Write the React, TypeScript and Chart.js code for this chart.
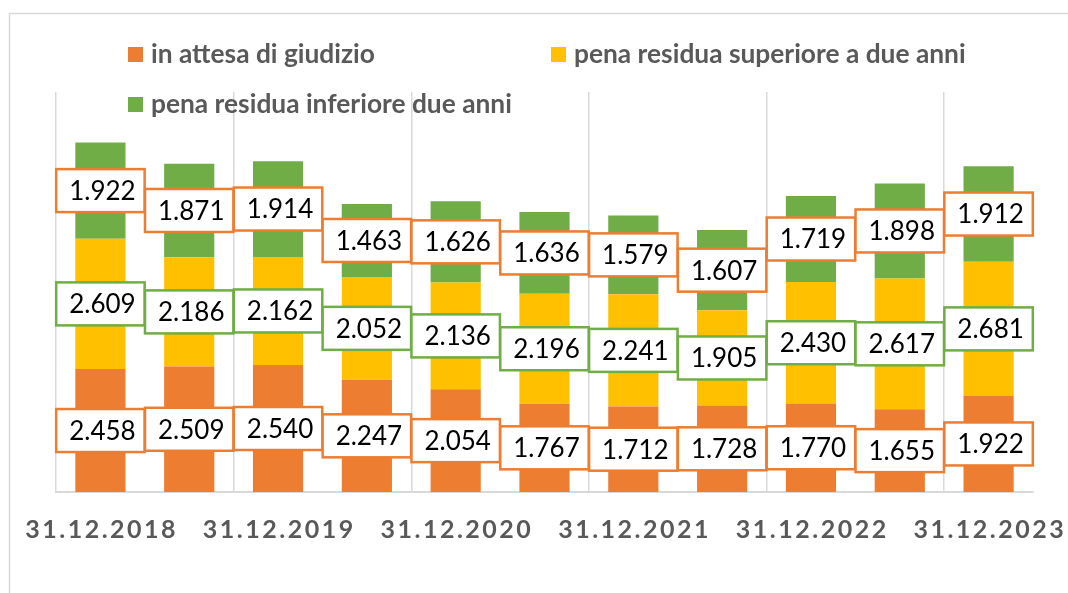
import React, { useEffect, useRef } from 'react';
import { Chart, registerables } from 'chart.js';

Chart.register(...registerables);

const categories = [
  '31.12.2018', '30.06.2019', '31.12.2019', '30.06.2020', '31.12.2020', '30.06.2021',
  '31.12.2021', '30.06.2022', '31.12.2022', '30.06.2023', '31.12.2023',
];
const attesaGiudizio = [2458, 2509, 2540, 2247, 2054, 1767, 1712, 1728, 1770, 1655, 1922];
const penaSuperiore = [2609, 2186, 2162, 2052, 2136, 2196, 2241, 1905, 2430, 2617, 2681];
const penaInferiore = [1922, 1871, 1914, 1463, 1626, 1636, 1579, 1607, 1719, 1898, 1912];
const seriesNames = [
  'in attesa di giudizio',
  'pena residua superiore a due anni',
  'pena residua inferiore due anni',
];

const ORANGE = '#ED7D31';
const YELLOW = '#FFC000';
const GREEN = '#70AD47';
const GRID = '#D9D9D9';
const TEXT_GRAY = '#595959';
const FONT = 'Lato, "Open Sans", sans-serif';

function fmt(v: number): string {
  return String(Math.round(v)).replace(/\B(?=(\d{3})+(?!\d))/g, '.');
}

function fitSize(ctx: CanvasRenderingContext2D, text: string, weight: string, target: number): number {
  ctx.font = `${weight} 100px ${FONT}`;
  const w = ctx.measureText(text).width;
  return (100 * target) / w;
}

const overlayPlugin = {
  id: 'overlay',
  beforeDraw(chart: any) {
    const ctx = chart.ctx as CanvasRenderingContext2D;
    ctx.save();
    ctx.fillStyle = '#ffffff';
    ctx.fillRect(0, 0, chart.width, chart.height);
    ctx.strokeStyle = GRID;
    ctx.lineWidth = 1.5;
    ctx.strokeRect(9.5, 13.5, chart.width + 50, chart.height + 50);
    ctx.restore();
  },
  afterDatasetsDraw(chart: any) {
    const ctx = chart.ctx as CanvasRenderingContext2D;
    const size = 26;
    ctx.save();
    chart.data.datasets.forEach((ds: any, di: number) => {
      const meta = chart.getDatasetMeta(di);
      meta.data.forEach((el: any, i: number) => {
        const v = ds.data[i];
        const text = fmt(v);
        const cx = el.x;
        const cy = (el.y + el.base) / 2;
        ctx.font = `400 ${size}px ${FONT}`;
        const tw = ctx.measureText(text).width;
        const w = tw + 22;
        const h = 43;
        ctx.fillStyle = '#ffffff';
        ctx.fillRect(cx - w / 2, cy - h / 2, w, h);
        ctx.strokeStyle = ds.labelBorder;
        ctx.lineWidth = 2.5;
        ctx.strokeRect(cx - w / 2, cy - h / 2, w, h);
        ctx.fillStyle = '#000000';
        ctx.textAlign = 'center';
        ctx.textBaseline = 'alphabetic';
        ctx.fillText(text, cx + 2, cy + size * 0.36);
      });
    });
    ctx.restore();
  },
  afterDraw(chart: any) {
    const ctx = chart.ctx as CanvasRenderingContext2D;
    ctx.save();
    // legend
    const legendPos = [
      { x: 128, y: 47 },
      { x: 551, y: 47 },
      { x: 128, y: 97 },
    ];
    const legSize = fitSize(ctx, seriesNames[0], '700', 224);
    chart.data.datasets.forEach((ds: any, di: number) => {
      const p = legendPos[di];
      ctx.fillStyle = ds.backgroundColor;
      ctx.fillRect(p.x, p.y, 15, 15);
      ctx.fillStyle = TEXT_GRAY;
      ctx.font = `700 ${legSize}px ${FONT}`;
      ctx.textAlign = 'left';
      ctx.textBaseline = 'alphabetic';
      ctx.fillText(ds.label, p.x + 23, p.y + 16);
    });
    // x labels
    const xs = chart.scales.x;
    const spacing = 2.5;
    ctx.font = `700 25px ${FONT}`;
    (ctx as any).letterSpacing = `${spacing}px`;
    ctx.fillStyle = TEXT_GRAY;
    ctx.textAlign = 'center';
    ctx.textBaseline = 'alphabetic';
    categories.forEach((c, i) => {
      if (i % 2 !== 0) return;
      const x = xs.getPixelForValue(i);
      ctx.fillText(c, x + spacing / 2, 538);
    });
    (ctx as any).letterSpacing = '0px';
    ctx.restore();
  },
};

export default function App() {
  const ref = useRef<HTMLCanvasElement>(null);
  useEffect(() => {
    if (!ref.current) return;
    const chart = new Chart(ref.current, {
      type: 'bar',
      data: {
        labels: categories,
        datasets: [
          { label: seriesNames[0], data: attesaGiudizio, backgroundColor: ORANGE, labelBorder: ORANGE } as any,
          { label: seriesNames[1], data: penaSuperiore, backgroundColor: YELLOW, labelBorder: GREEN } as any,
          { label: seriesNames[2], data: penaInferiore, backgroundColor: GREEN, labelBorder: ORANGE } as any,
        ],
      },
      options: {
        responsive: false,
        animation: false,
        devicePixelRatio: 1,
        layout: { padding: { left: 56, right: 35, top: 92, bottom: 101 } },
        datasets: { bar: { categoryPercentage: 1, barPercentage: 0.565 } },
        plugins: { legend: { display: false }, tooltip: { enabled: false } },
        scales: {
          x: {
            stacked: true,
            ticks: { display: false },
            grid: {
              drawTicks: false,
              lineWidth: 1.5,
              color: (c: any) => (typeof c.index === 'number' && c.index % 2 === 0 ? GRID : 'rgba(0,0,0,0)'),
            },
            border: { display: true, color: GRID, width: 2 },
          },
          y: { stacked: true, display: false, min: 0, max: 8000 },
        },
      },
      plugins: [overlayPlugin],
    });
    return () => chart.destroy();
  }, []);
  return (
    <div style={{ position: 'fixed', left: 0, top: 0, width: 1068, height: 593, background: '#fff' }}>
      <canvas ref={ref} width={1068} height={593} />
    </div>
  );
}
